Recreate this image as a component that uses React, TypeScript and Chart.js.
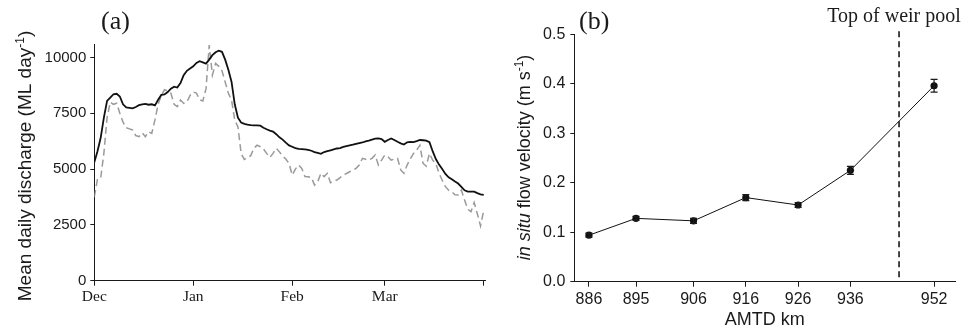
import { useEffect, useRef } from "react";
import { Chart, registerables } from "chart.js";

Chart.register(...registerables);

const SANS = "'Liberation Sans', Arial, Helvetica, sans-serif";
const SERIF = "'Liberation Serif', 'Times New Roman', Times, serif";
const INK = "#1a1a1a";

// ---------- Panel (a): mean daily discharge, 1 Dec .. 1 Apr (day index) ----------
const monthLabels = ["Dec", "Jan", "Feb", "Mar"];
const monthStartDays = [0, 31, 62, 91];
const seasonEndDay = 122;
const dischargeTicks = [0, 2500, 5000, 7500, 10000];

const dischargeSolid = [
  5300, 5800, 6400, 7300, 8050, 8200, 8350, 8370, 8250, 7900,
  7760, 7740, 7720, 7780, 7860, 7900, 7920, 7880, 7900, 7850,
  8100, 8320, 8340, 8450, 8600, 8690, 8650, 8850, 9200, 9400,
  9500, 9600, 9750, 9830, 9780, 9720, 9900, 10100, 10230, 10300,
  10250, 9900, 9450, 8900, 7900, 7300, 7080, 7020, 6990, 6970,
  6960, 6960, 6940, 6850, 6780, 6720, 6680, 6560, 6420, 6320,
  6180, 6060, 6000, 5940, 5900, 5890, 5880, 5860, 5820, 5760,
  5720, 5680, 5760, 5800, 5840, 5880, 5920, 5940, 5990, 6030,
  6060, 6090, 6130, 6160, 6190, 6240, 6270, 6320, 6360, 6370,
  6340, 6220, 6300, 6370, 6300, 6220, 6150, 6100, 6200, 6220,
  6210, 6250, 6300, 6290, 6270, 6200, 5800, 5450, 5200, 5000,
  4780, 4630, 4540, 4440, 4350, 4200, 4050, 3990, 3990, 3990,
  3920, 3870, 3840,
];

const dischargeDashed = [
  3750, 4550, 4600, 5700, 7300, 8000, 7900, 7950, 7500, 7100,
  6850, 6800, 6750, 6500, 6450, 6620, 6450, 6670, 6600, 7200,
  7900, 8300, 8550, 8500, 8400, 7900, 7800, 8090, 7940, 8000,
  8300, 8450, 8400, 8100, 8050, 8600, 10550, 9210, 9730, 9600,
  9400, 8900, 8390, 8090, 7190, 6890, 5700, 5430, 5500, 5600,
  5930, 6070, 6000, 5900, 5700, 5520, 5700, 5930, 5770, 5580,
  5450, 5250, 4730, 5000, 5180, 5030, 4660, 4650, 4630, 4280,
  4430, 4810, 4660, 4810, 4390, 4450, 4510, 4620, 4730, 4800,
  4880, 4950, 5030, 5180, 5480, 5440, 5400, 5480, 5630, 5180,
  5400, 5630, 5550, 5400, 5450, 5480, 4960, 4810, 5180, 5450,
  5700, 5850, 6070, 5250, 5130, 5700, 5400, 5250, 4810, 4500,
  4210, 4050, 3980, 3850, 3840, 4060, 3610, 3200, 3090, 3500,
  3000, 2450, 3150,
];

// ---------- Panel (b): in situ flow velocity vs AMTD ----------
const amtdKm = [886, 895, 906, 916, 926, 936, 952];
const velocity = [0.094, 0.128, 0.123, 0.17, 0.155, 0.225, 0.396];
const velocityErr = [0.004, 0.004, 0.005, 0.006, 0.005, 0.008, 0.013];
const velocityTicks = [0, 0.1, 0.2, 0.3, 0.4, 0.5];
const weirPoolKm = 945.3;
const weirPoolLabel = "Top of weir pool";

type Seg = { text: string; font: string; dy?: number };

function drawRotatedRich(ctx: CanvasRenderingContext2D, segs: Seg[], baselineX: number, centerY: number) {
  ctx.save();
  ctx.translate(baselineX, centerY);
  ctx.rotate(-Math.PI / 2);
  ctx.textAlign = "left";
  ctx.textBaseline = "alphabetic";
  const widths = segs.map((s) => {
    ctx.font = s.font;
    return ctx.measureText(s.text).width;
  });
  const total = widths.reduce((a, b) => a + b, 0);
  let x = -total / 2;
  segs.forEach((s, i) => {
    ctx.font = s.font;
    ctx.fillText(s.text, x, s.dy || 0);
    x += widths[i];
  });
  ctx.restore();
}

const axisGrid = { drawOnChartArea: false, color: INK, tickLength: 5, lineWidth: 1 };
const axisBorder = { color: INK, width: 1 };

const panelAPlugin = {
  id: "panelA",
  afterDraw(chart: any) {
    const ctx = chart.ctx as CanvasRenderingContext2D;
    ctx.save();
    ctx.fillStyle = INK;
    ctx.font = `26px ${SERIF}`;
    ctx.textBaseline = "alphabetic";
    ctx.textAlign = "left";
    ctx.fillText("(a)", 101, 28.5);
    drawRotatedRich(
      ctx,
      [
        { text: "Mean daily discharge (ML day", font: `19px ${SANS}` },
        { text: "-1", font: `12px ${SANS}`, dy: -7 },
        { text: ")", font: `19px ${SANS}` },
      ],
      30.5,
      166
    );
    ctx.restore();
  },
};

const panelBPlugin = {
  id: "panelB",
  beforeDatasetsDraw(chart: any) {
    const ctx = chart.ctx as CanvasRenderingContext2D;
    const xs = chart.scales.x;
    const px = xs.getPixelForValue(weirPoolKm);
    ctx.save();
    ctx.strokeStyle = INK;
    ctx.lineWidth = 1.6;
    ctx.setLineDash([6, 4]);
    ctx.beginPath();
    ctx.moveTo(px, chart.chartArea.top - 3);
    ctx.lineTo(px, chart.chartArea.bottom);
    ctx.stroke();
    ctx.restore();
  },
  afterDatasetsDraw(chart: any) {
    const ctx = chart.ctx as CanvasRenderingContext2D;
    const xs = chart.scales.x;
    const ys = chart.scales.y;
    ctx.save();
    ctx.strokeStyle = INK;
    ctx.lineWidth = 1.2;
    amtdKm.forEach((km, i) => {
      const px = xs.getPixelForValue(km);
      const top = ys.getPixelForValue(velocity[i] + velocityErr[i]);
      const bot = ys.getPixelForValue(velocity[i] - velocityErr[i]);
      ctx.beginPath();
      ctx.moveTo(px, top);
      ctx.lineTo(px, bot);
      ctx.moveTo(px - 3.5, top);
      ctx.lineTo(px + 3.5, top);
      ctx.moveTo(px - 3.5, bot);
      ctx.lineTo(px + 3.5, bot);
      ctx.stroke();
    });
    ctx.restore();
  },
  afterDraw(chart: any) {
    const ctx = chart.ctx as CanvasRenderingContext2D;
    const xs = chart.scales.x;
    ctx.save();
    ctx.fillStyle = INK;
    ctx.font = `26px ${SERIF}`;
    ctx.textBaseline = "alphabetic";
    ctx.textAlign = "left";
    ctx.fillText("(b)", 99, 28.5);
    ctx.font = `20px ${SERIF}`;
    ctx.textAlign = "center";
    ctx.fillText(weirPoolLabel, xs.getPixelForValue(weirPoolKm) - 5, 22);
    drawRotatedRich(
      ctx,
      [
        { text: "in situ", font: `italic 18px ${SANS}` },
        { text: " flow velocity (m s", font: `18px ${SANS}` },
        { text: "-1", font: `12px ${SANS}`, dy: -7 },
        { text: ")", font: `18px ${SANS}` },
      ],
      49.5,
      157.5
    );
    ctx.restore();
  },
};

export default function App() {
  const refA = useRef<HTMLCanvasElement>(null);
  const refB = useRef<HTMLCanvasElement>(null);

  useEffect(() => {
    const chartA = new Chart(refA.current!, {
      type: "line",
      data: {
        datasets: [
          {
            data: dischargeSolid.map((v, i) => ({ x: i, y: v })),
            borderColor: "#111111",
            borderWidth: 1.8,
            pointRadius: 0,
            tension: 0,
          },
          {
            data: dischargeDashed.map((v, i) => ({ x: i, y: v })),
            borderColor: "#9a9a9a",
            borderWidth: 1.5,
            borderDash: [7, 4],
            pointRadius: 0,
            tension: 0,
          },
        ],
      },
      options: {
        animation: false,
        responsive: false,
        layout: { padding: { left: 0, right: 5, top: 44, bottom: 0 } },
        plugins: { legend: { display: false }, tooltip: { enabled: false } },
        scales: {
          x: {
            type: "linear",
            min: 0,
            max: 122.4,
            afterBuildTicks: (s: any) => {
              s.ticks = [...monthStartDays, seasonEndDay].map((v) => ({ value: v }));
            },
            afterFit: (s: any) => {
              s.height = 48.3;
            },
            ticks: {
              autoSkip: false,
              maxRotation: 0,
              padding: 2,
              color: INK,
              font: { family: SERIF, size: 15.5 },
              callback: (v: any) => {
                const i = monthStartDays.indexOf(Number(v));
                return i >= 0 ? monthLabels[i] : "";
              },
            },
            grid: axisGrid,
            border: axisBorder,
          },
          y: {
            type: "linear",
            min: 0,
            max: 10600,
            afterBuildTicks: (s: any) => {
              s.ticks = dischargeTicks.map((v) => ({ value: v }));
            },
            afterFit: (s: any) => {
              s.width = 94.3;
            },
            ticks: {
              padding: 4,
              color: INK,
              font: { family: SANS, size: 15 },
              callback: (v: any) => String(v),
            },
            grid: { ...axisGrid, tickLength: 4 },
            border: axisBorder,
          },
        },
      },
      plugins: [panelAPlugin],
    } as any);

    const chartB = new Chart(refB.current!, {
      type: "line",
      data: {
        datasets: [
          {
            data: amtdKm.map((km, i) => ({ x: km, y: velocity[i] })),
            borderColor: "#111111",
            borderWidth: 1,
            pointRadius: 3.6,
            pointBackgroundColor: "#111111",
            pointBorderWidth: 0,
            tension: 0,
          },
        ],
      },
      options: {
        animation: false,
        responsive: false,
        layout: { padding: { left: 0, right: 8, top: 34.3, bottom: 0 } },
        plugins: { legend: { display: false }, tooltip: { enabled: false } },
        scales: {
          x: {
            type: "linear",
            min: 883.2,
            max: 956,
            afterBuildTicks: (s: any) => {
              s.ticks = amtdKm.map((v) => ({ value: v }));
            },
            afterFit: (s: any) => {
              s.height = 47.3;
            },
            ticks: {
              autoSkip: false,
              maxRotation: 0,
              padding: 3,
              color: INK,
              font: { family: SANS, size: 16 },
              callback: (v: any) => String(v),
            },
            title: {
              display: true,
              text: "AMTD km",
              color: INK,
              font: { family: SANS, size: 18, lineHeight: 1 },
              padding: { top: 0, bottom: 0 },
            },
            grid: axisGrid,
            border: axisBorder,
          },
          y: {
            type: "linear",
            min: 0,
            max: 0.5,
            afterBuildTicks: (s: any) => {
              s.ticks = velocityTicks.map((v) => ({ value: v }));
            },
            afterFit: (s: any) => {
              s.width = 94.3;
            },
            ticks: {
              padding: 5,
              color: INK,
              font: { family: SANS, size: 16 },
              callback: (v: any) => Number(v).toFixed(1),
            },
            grid: { ...axisGrid, tickLength: 4 },
            border: axisBorder,
          },
        },
      },
      plugins: [panelBPlugin],
    } as any);

    return () => {
      chartA.destroy();
      chartB.destroy();
    };
  }, []);

  return (
    <div style={{ position: "absolute", left: 0, top: 0, width: 963, height: 329, background: "#ffffff" }}>
      <canvas
        ref={refA}
        width={490}
        height={329}
        style={{ position: "absolute", left: 0, top: 0, width: 490, height: 329 }}
      />
      <canvas
        ref={refB}
        width={483}
        height={329}
        style={{ position: "absolute", left: 480, top: 0, width: 483, height: 329 }}
      />
    </div>
  );
}
